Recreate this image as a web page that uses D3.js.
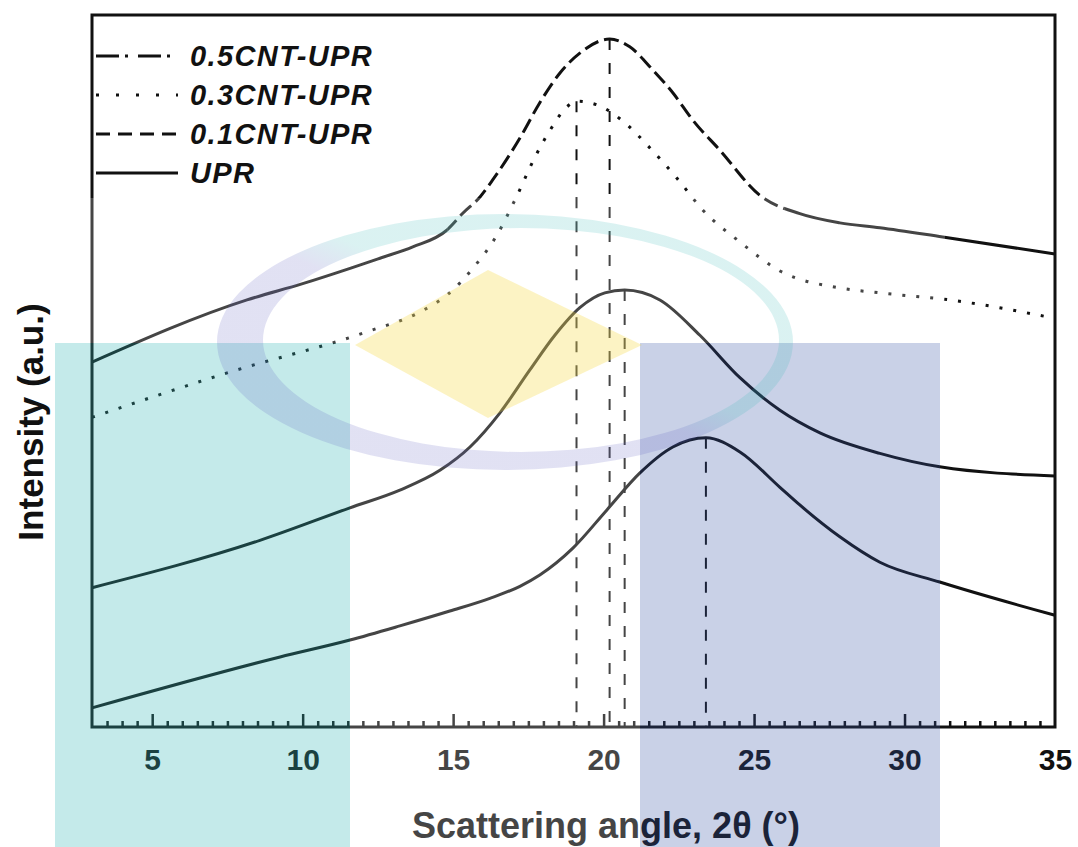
<!DOCTYPE html>
<html>
<head>
<meta charset="utf-8">
<script src="https://cdn.jsdelivr.net/npm/d3@7"></script>
<style>
body { margin: 0; background: #fff; }
svg { display: block; font-family: "Liberation Sans", Arial, sans-serif; }
</style>
</head>
<body>
<div id="chart"></div>
<script>
// Curves: [2θ (deg), intensity (a.u.)]
const cnt05 = [[3,50.9],[8.15,59.7],[10.0,62.0],[11.6,64.2],[12.57,65.6],[13.66,67.2],[14.8,69.6],[15.33,72.0],[15.9,74.3],[16.32,76.7],[17.22,82.6],[17.88,87.6],[18.55,91.8],[19.21,94.6],[20.2,96.6],[20.87,95.5],[21.64,92.2],[22.3,89.0],[22.97,85.1],[23.86,80.9],[25.19,74.5],[26.52,71.9],[27.85,70.6],[29.18,69.9],[31.27,68.6],[35,66.2]];
const cnt03 = [[3,43.1],[7.58,49.5],[12.14,55.2],[13.9,58.0],[14.8,60.4],[15.66,64.2],[16.46,68.9],[17.05,73.8],[17.72,79.9],[18.22,83.7],[18.78,87.0],[19.1,87.8],[19.78,87.3],[20.64,85.0],[21.54,81.2],[22.44,76.9],[23.3,72.4],[24.53,67.9],[25.86,63.8],[27.85,61.4],[29.18,60.7],[31.5,59.7],[35,57.1]];
const cnt01 = [[3,19.0],[8.58,25.7],[11.57,30.3],[13.23,32.8],[14.56,35.6],[15.56,38.9],[16.55,43.7],[17.55,49.8],[18.38,54.7],[19.21,58.6],[20.04,60.7],[20.7,61.1],[21.87,59.7],[23.2,54.7],[24.53,48.7],[25.86,44.1],[27.19,40.9],[29.18,38.0],[31.17,36.1],[35,34.8]];
const upr = [[3,2.0],[9.25,9.2],[11.57,11.6],[13.23,13.6],[14.89,15.7],[16.22,17.5],[17.22,19.2],[17.88,20.8],[18.98,24.6],[20.11,30.0],[21.2,35.2],[22.3,38.9],[23.4,40.2],[24.53,38.2],[25.86,33.2],[26.52,30.7],[27.85,26.2],[29.18,22.6],[31.17,19.8],[35,15.1]];

// peak positions marked by the vertical dashed lines
const peakX = [19.1, 20.2, 20.7, 23.4];
const peakY = [87.8, 96.6, 61.1, 40.2];

const legendLabels = ["0.5CNT-UPR", "0.3CNT-UPR", "0.1CNT-UPR", "UPR"];
const xTicks = [5, 10, 15, 20, 25, 30, 35];

const width = 1078, height = 847;
const box = { left: 92, right: 1055, top: 15, bottom: 727 };

const svg = d3.select("#chart").append("svg")
    .attr("width", width)
    .attr("height", height);

const x = d3.scaleLinear().domain([3, 35]).range([box.left, box.right]);
const y = d3.scaleLinear().domain([-0.7, 100]).range([box.bottom, box.top]);

const line = d3.line()
    .x(d => x(d[0]))
    .y(d => y(d[1]))
    .curve(d3.curveMonotoneX);

// clip regions for the top curve (solid tails, dashed middle)
const defs = svg.append("defs");
defs.append("clipPath").attr("id", "mid")
    .append("rect").attr("x", x(14.8)).attr("y", 0).attr("width", x(26) - x(14.8)).attr("height", height);
const tails = defs.append("clipPath").attr("id", "tails");
tails.append("rect").attr("x", 0).attr("y", 0).attr("width", x(14.8)).attr("height", height);
tails.append("rect").attr("x", x(26)).attr("y", 0).attr("width", width - x(26)).attr("height", height);

const plot = svg.append("g");

// vertical peak lines
plot.selectAll(".peak")
    .data(peakX)
    .enter().append("line")
    .attr("x1", d => x(d)).attr("x2", d => x(d))
    .attr("y1", (d, i) => y(peakY[i]))
    .attr("y2", box.bottom)
    .attr("stroke", "#111")
    .attr("stroke-width", 2)
    .attr("stroke-dasharray", "11,13");

// curves
plot.append("path").datum(cnt05)
    .attr("d", line).attr("fill", "none").attr("stroke", "#111").attr("stroke-width", 3)
    .attr("clip-path", "url(#tails)");
plot.append("path").datum(cnt05)
    .attr("d", line).attr("fill", "none").attr("stroke", "#111").attr("stroke-width", 3)
    .attr("stroke-dasharray", "15,6")
    .attr("clip-path", "url(#mid)");

plot.append("path").datum(cnt03)
    .attr("d", line).attr("fill", "none").attr("stroke", "#111").attr("stroke-width", 3)
    .attr("stroke-dasharray", "3,11");

plot.append("path").datum(cnt01)
    .attr("d", line).attr("fill", "none").attr("stroke", "#111").attr("stroke-width", 3);

plot.append("path").datum(upr)
    .attr("d", line).attr("fill", "none").attr("stroke", "#111").attr("stroke-width", 3);

// axis ticks: minor every 0.5, major every 5, pointing inwards
const minor = d3.range(3.5, 35, 0.5).filter(v => v % 5 !== 0);
const minorAxis = plot.append("g")
    .attr("transform", `translate(0,${box.bottom})`)
    .call(d3.axisBottom(x).tickValues(minor).tickSize(-6).tickFormat(""));
minorAxis.select(".domain").remove();
minorAxis.selectAll("line").attr("stroke", "#111").attr("stroke-width", 2.5);

const majorAxis = plot.append("g")
    .attr("transform", `translate(0,${box.bottom})`)
    .call(d3.axisBottom(x).tickValues(xTicks).tickSize(-13).tickPadding(22).tickFormat(d3.format("d")));
majorAxis.select(".domain").remove();
majorAxis.selectAll("line").attr("stroke", "#111").attr("stroke-width", 2.5);
majorAxis.selectAll("text")
    .attr("fill", "#111")
    .attr("font-size", 30)
    .attr("font-weight", "bold")
    .attr("font-family", "'Liberation Sans', Arial, sans-serif");
majorAxis.selectAll(".tick").filter(d => d === 35).select("line").remove();

// frame
plot.append("rect")
    .attr("x", box.left).attr("y", box.top)
    .attr("width", box.right - box.left).attr("height", box.bottom - box.top)
    .attr("fill", "none").attr("stroke", "#111").attr("stroke-width", 3);

// legend
const legendDash = ["23,6,3,10", "3,17", "14,8", null];
const legend = plot.append("g")
    .selectAll("g")
    .data(legendLabels)
    .enter().append("g")
    .attr("transform", (d, i) => `translate(0,${56 + i * 39})`);

legend.append("line")
    .attr("x1", 96).attr("x2", 178)
    .attr("stroke", "#111").attr("stroke-width", 3)
    .attr("stroke-dasharray", (d, i) => legendDash[i]);

legend.append("text")
    .attr("x", 190)
    .attr("dy", "0.36em")
    .attr("font-size", 29)
    .attr("font-weight", "bold")
    .attr("font-style", "italic")
    .attr("letter-spacing", 1.4)
    .attr("fill", "#111")
    .text(d => d);

// axis titles
plot.append("text")
    .attr("transform", "translate(43,422) rotate(-90)")
    .attr("text-anchor", "middle")
    .attr("font-size", 35)
    .attr("font-weight", "bold")
    .attr("fill", "#111")
    .text("Intensity (a.u.)");

plot.append("text")
    .attr("x", 606).attr("y", 838)
    .attr("text-anchor", "middle")
    .attr("font-size", 36)
    .attr("font-weight", "bold")
    .attr("fill", "#111")
    .text("Scattering angle, 2θ (°)");

// faint logo watermark laid over the figure
const wm = svg.append("g").attr("pointer-events", "none");
wm.append("path")
    .attr("d", "M55,198H945V343H640V847H350V343H55Z")
    .attr("fill", "#fff").attr("opacity", 0.22);
wm.append("rect")
    .attr("x", 55).attr("y", 343).attr("width", 295).attr("height", 504)
    .attr("fill", "rgb(52,183,181)").attr("opacity", 0.29);
wm.append("rect")
    .attr("x", 640).attr("y", 343).attr("width", 300).attr("height", 504)
    .attr("fill", "rgb(55,85,165)").attr("opacity", 0.27);
wm.append("path")
    .attr("d", "M355,345L488,270L642,345L488,418Z")
    .attr("fill", "rgb(245,215,60)").attr("opacity", 0.3);

const grad = defs.append("linearGradient").attr("id", "ring")
    .attr("x1", 0).attr("y1", 1).attr("x2", 1).attr("y2", 0);
grad.append("stop").attr("offset", "0%").attr("stop-color", "rgb(90,90,190)");
grad.append("stop").attr("offset", "48%").attr("stop-color", "rgb(90,90,190)");
grad.append("stop").attr("offset", "56%").attr("stop-color", "rgb(52,183,181)");
grad.append("stop").attr("offset", "100%").attr("stop-color", "rgb(52,183,181)");

function ellipsePath(cx, cy, rx, ry) {
    return `M${cx - rx},${cy}A${rx},${ry} 0 1,0 ${cx + rx},${cy}A${rx},${ry} 0 1,0 ${cx - rx},${cy}Z`;
}
wm.append("path")
    .attr("d", ellipsePath(505, 342, 288, 128) + ellipsePath(521, 340, 258, 112))
    .attr("fill-rule", "evenodd")
    .attr("fill", "url(#ring)")
    .attr("opacity", 0.18);
</script>
</body>
</html>
